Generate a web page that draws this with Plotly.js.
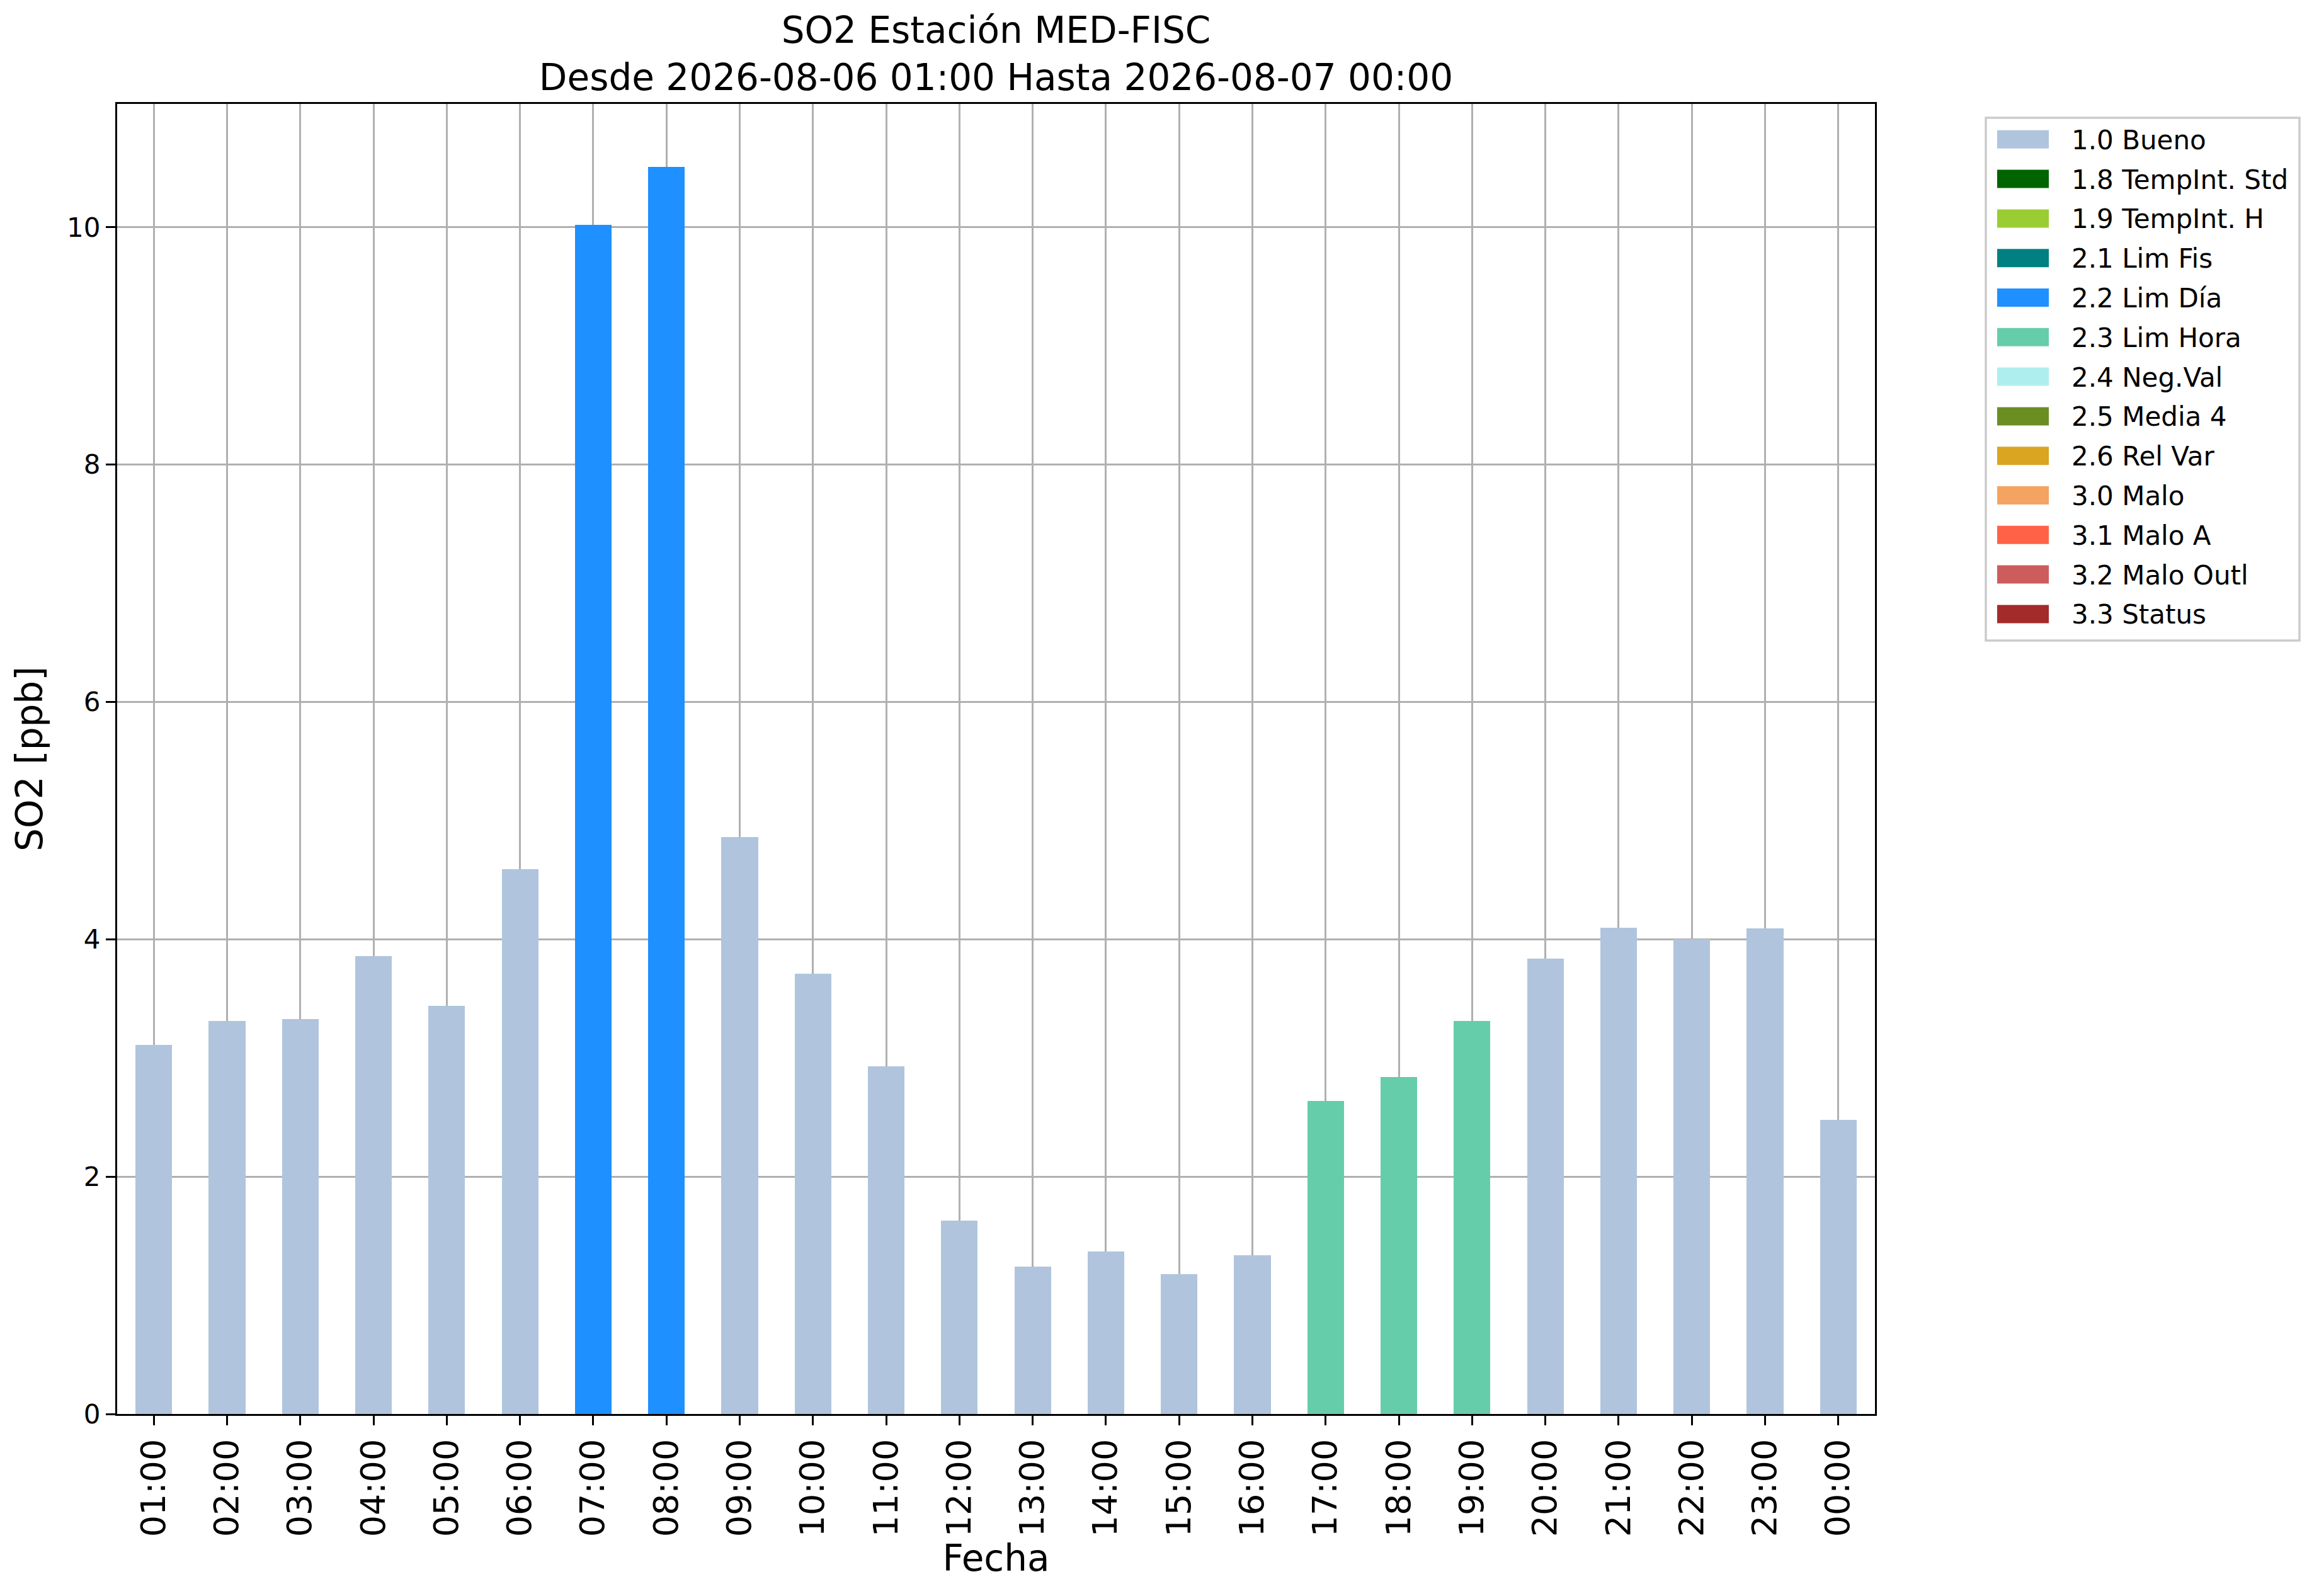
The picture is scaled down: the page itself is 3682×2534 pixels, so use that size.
<!DOCTYPE html>
<html>
<head>
<meta charset="utf-8">
<script src="https://cdn.plot.ly/plotly-3.0.1.min.js"></script>
<style>
  body { margin: 0; background: #fff; }
</style>
</head>
<body>
<div id="chart"></div>
<script>
// hourly values, one per hour from 01:00 to 00:00
var hours = ['01:00','02:00','03:00','04:00','05:00','06:00','07:00','08:00','09:00','10:00','11:00','12:00',
             '13:00','14:00','15:00','16:00','17:00','18:00','19:00','20:00','21:00','22:00','23:00','00:00'];
var so2 = [3.11, 3.31, 3.33, 3.86, 3.44, 4.59, 10.02, 10.51, 4.86, 3.71, 2.93, 1.63,
           1.24, 1.37, 1.18, 1.34, 2.64, 2.84, 3.31, 3.84, 4.10, 4.00, 4.09, 2.48];
var flags = [1.0, 1.0, 1.0, 1.0, 1.0, 1.0, 2.2, 2.2, 1.0, 1.0, 1.0, 1.0,
             1.0, 1.0, 1.0, 1.0, 2.3, 2.3, 2.3, 1.0, 1.0, 1.0, 1.0, 1.0];

// flag categories (legend)
var flagCodes = [1.0, 1.8, 1.9, 2.1, 2.2, 2.3, 2.4, 2.5, 2.6, 3.0, 3.1, 3.2, 3.3];
var flagNames = ['1.0 Bueno', '1.8 TempInt. Std', '1.9 TempInt. H', '2.1 Lim Fis', '2.2 Lim Día',
                 '2.3 Lim Hora', '2.4 Neg.Val', '2.5 Media 4', '2.6 Rel Var', '3.0 Malo',
                 '3.1 Malo A', '3.2 Malo Outl', '3.3 Status'];
var flagColors = ['#B0C4DE', '#006400', '#9ACD32', '#008080', '#1E90FF', '#66CDAA', '#AFEEEE',
                  '#6B8E23', '#DAA520', '#F4A460', '#FF6347', '#CD5C5C', '#A52A2A'];

var FONT = 'DejaVu Sans, Liberation Sans, sans-serif';

// plot area in pixels
var L = 186, R = 2977, T = 165, B = 2245;
function px(x) { return (x - L) / (R - L); }
function py(y) { return (B - y) / (B - T); }

var traces = flagCodes.map(function (code, i) {
  return {
    type: 'bar',
    name: flagNames[i],
    x: hours,
    y: so2.map(function (v, k) { return flags[k] === code ? v : null; }),
    width: 0.5,
    marker: { color: flagColors[i], line: { width: 0 } },
    showlegend: false,
    hoverinfo: 'x+y+name'
  };
});

// hand-drawn legend like matplotlib's
var shapes = [];
var annotations = [];
shapes.push({
  type: 'rect', xref: 'paper', yref: 'paper',
  x0: px(3153), x1: px(3651), y0: py(187), y1: py(1017),
  line: { color: '#cccccc', width: 3.5 }, fillcolor: 'rgba(255,255,255,0.8)', layer: 'above'
});
flagNames.forEach(function (name, i) {
  var cy = 221.3 + i * 62.8;
  shapes.push({
    type: 'rect', xref: 'paper', yref: 'paper',
    x0: px(3171), x1: px(3253), y0: py(cy - 14.5), y1: py(cy + 14.5),
    line: { width: 0 }, fillcolor: flagColors[i], layer: 'above'
  });
  annotations.push({
    xref: 'paper', yref: 'paper', x: px(3287), y: py(cy + 1),
    xanchor: 'left', yanchor: 'middle', showarrow: false,
    text: name, font: { family: FONT, size: 42, color: '#000' }
  });
});

var layout = {
  width: 3682,
  height: 2534,
  paper_bgcolor: '#fff',
  plot_bgcolor: '#fff',
  font: { family: FONT, color: '#000' },
  margin: { l: L, r: 3682 - R, t: T, b: 2534 - B, pad: 0 },
  title: {
    text: 'SO2 Estación MED-FISC<br>Desde 2026-08-06 01:00 Hasta 2026-08-07 00:00',
    font: { family: FONT, size: 58, color: '#000' },
    xref: 'paper', x: 0.5, xanchor: 'center',
    yref: 'paper', y: 1, yanchor: 'bottom',
    pad: { b: 97 }
  },
  barmode: 'overlay',
  bargap: 0,
  showlegend: false,
  xaxis: {
    type: 'category',
    range: [-0.5, 23.5],
    showline: true, mirror: true, linecolor: '#000', linewidth: 3.3,
    showgrid: true, gridcolor: '#b0b0b0', gridwidth: 3.3,
    ticks: 'outside', ticklen: 15, tickwidth: 3.3, tickcolor: '#000',
    tickangle: -90,
    tickfont: { family: FONT, size: 54, color: '#000' },
    layer: 'above traces',
    automargin: false,
    title: { text: 'Fecha', font: { family: FONT, size: 58, color: '#000' }, standoff: 8 }
  },
  yaxis: {
    range: [0, 11.04],
    dtick: 2, tick0: 0,
    showline: true, mirror: true, linecolor: '#000', linewidth: 3.3,
    showgrid: true, gridcolor: '#b0b0b0', gridwidth: 3.3,
    zeroline: false,
    ticks: 'outside', ticklen: 15, tickwidth: 3.3, tickcolor: '#000',
    tickfont: { family: FONT, size: 42, color: '#000' },
    layer: 'above traces',
    automargin: false,
    title: { text: 'SO2 [ppb]', font: { family: FONT, size: 58, color: '#000' }, standoff: 20 }
  },
  shapes: shapes,
  annotations: annotations
};

Plotly.newPlot('chart', traces, layout, { displayModeBar: false, responsive: false });
</script>
</body>
</html>
